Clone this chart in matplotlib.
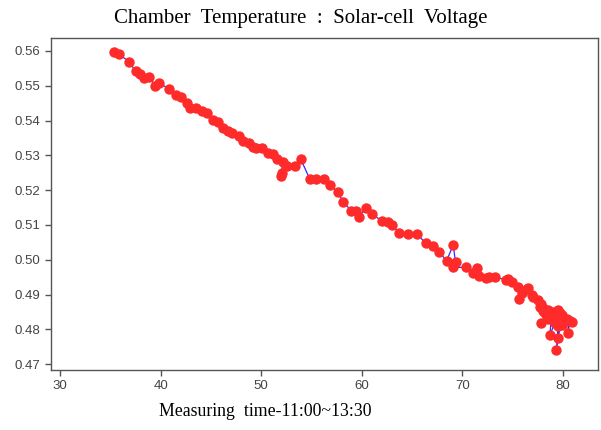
import numpy as np
import matplotlib
matplotlib.use('Agg')
import matplotlib.pyplot as plt

# chamber temperature (x) and solar-cell voltage (y)
temp = [35.37, 35.86, 36.89, 37.52, 37.95, 38.35, 38.88, 39.44, 39.84, 40.83,
        41.53, 42.00, 42.65, 42.92, 43.52, 44.09, 44.64, 45.24, 45.74, 46.23,
        46.73, 47.13, 47.79, 48.22, 48.79, 49.15, 49.48, 50.05, 50.71, 51.14,
        51.60, 52.14, 51.97, 52.10, 52.59, 53.36, 53.93, 54.85, 55.50, 56.24,
        56.84, 57.60, 58.16, 58.93, 59.39, 59.72, 60.39, 60.98, 61.98, 62.63,
        63.03, 63.70, 64.64, 65.52, 66.35, 67.11, 67.67, 68.44, 69.10, 69.33,
        69.10, 70.33, 71.02, 71.48, 71.65, 72.35, 72.67, 73.24, 74.33, 74.56,
        74.90, 75.55, 75.95, 75.63, 76.39, 76.55, 76.89, 77.05, 77.54, 77.71,
        77.88, 78.04, 78.21, 78.04, 78.54, 78.71, 78.38, 77.88, 78.54, 78.88,
        79.04, 79.21, 78.71, 78.88, 79.37, 79.53, 79.37, 79.53, 79.70, 79.87,
        79.37, 79.53, 79.70, 80.03, 79.87, 80.20, 80.53, 80.53, 80.70, 80.89,
        80.37]
volt = [0.5598, 0.5591, 0.5568, 0.5541, 0.5533, 0.5523, 0.5526, 0.5500, 0.5509, 0.5490,
        0.5472, 0.5469, 0.5451, 0.5435, 0.5435, 0.5428, 0.5423, 0.5402, 0.5397, 0.5378,
        0.5370, 0.5363, 0.5356, 0.5342, 0.5336, 0.5325, 0.5320, 0.5322, 0.5306, 0.5304,
        0.5289, 0.5282, 0.5241, 0.5249, 0.5268, 0.5270, 0.5289, 0.5231, 0.5231, 0.5231,
        0.5215, 0.5194, 0.5167, 0.5141, 0.5141, 0.5124, 0.5148, 0.5132, 0.5112, 0.5107,
        0.5100, 0.5078, 0.5074, 0.5074, 0.5047, 0.5038, 0.5023, 0.4997, 0.5042, 0.4992,
        0.4978, 0.4978, 0.4961, 0.4976, 0.4953, 0.4947, 0.4950, 0.4951, 0.4942, 0.4945,
        0.4935, 0.4923, 0.4904, 0.4887, 0.4916, 0.4918, 0.4899, 0.4892, 0.4884, 0.4865,
        0.4872, 0.4861, 0.4846, 0.4852, 0.4856, 0.4846, 0.4838, 0.4818, 0.4830, 0.4841,
        0.4851, 0.4818, 0.4784, 0.4836, 0.4845, 0.4856, 0.4828, 0.4774, 0.4835, 0.4842,
        0.4741, 0.4810, 0.4848, 0.4822, 0.4813, 0.4830, 0.4827, 0.4789, 0.4825, 0.4822,
        0.4830]

plt.rcParams['font.family'] = ['Liberation Sans', 'DejaVu Sans']
fig = plt.figure(figsize=(6.01, 4.30), dpi=100)
ax = fig.add_axes([0.085, 0.1395, 0.91, 0.772])

ax.plot(temp, volt, '-', color='#2b2bff', lw=0.9, zorder=1)
ax.plot(temp, volt, 'o', color='#ff2a2a', ms=7.5, mec='none', zorder=2)

ax.set_xlim(29.1, 83.5)
ax.set_ylim(0.4683, 0.5637)
ax.set_xticks([30, 40, 50, 60, 70, 80])
ax.set_yticks(np.arange(0.47, 0.5601, 0.01))
ax.set_yticklabels(['%.2f' % v for v in np.arange(0.47, 0.5601, 0.01)])

for s in ax.spines.values():
    s.set_color('#555555')
    s.set_linewidth(1.0)
ax.tick_params(colors='#555555', labelcolor='#444444', labelsize=9.5, length=4, width=1.0)

# title and x label sit centred on the figure, not on the axes
fig.text(0.5, 1 - 19 / 430, 'Chamber  Temperature  :  Solar-cell  Voltage',
         family='Liberation Serif', fontsize=15, ha='center', va='center')
fig.text(0.441, 1 - 411 / 430, 'Measuring  time-11:00~13:30',
         family='Liberation Serif', fontsize=12.8, ha='center', va='center')

fig.savefig('out.png', dpi=100)
